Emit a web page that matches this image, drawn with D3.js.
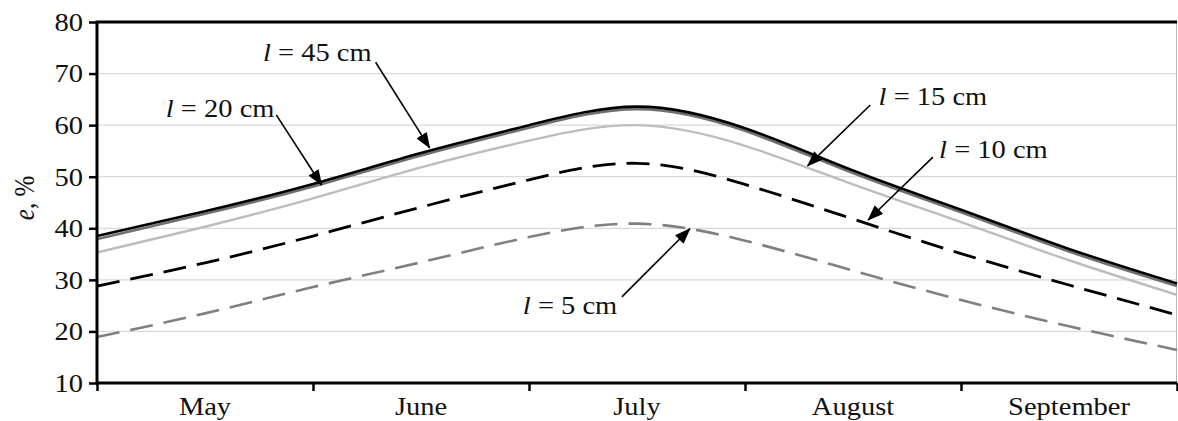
<!DOCTYPE html>
<html>
<head>
<meta charset="utf-8">
<script src="https://cdn.jsdelivr.net/npm/d3@7"></script>
<style>
  body { margin: 0; background: #fff; }
  text { font-family: "Liberation Serif", "Times New Roman", serif; fill: #111; }
</style>
</head>
<body>
<svg id="chart" width="1178" height="421"></svg>
<script>
// month index: 0 = start of May ... 5 = end of September
const months = ['May', 'June', 'July', 'August', 'September'];
const t = [0, 0.5, 1, 1.5, 2, 2.5, 3, 3.5, 4, 4.5, 5];
const yTicks = [10, 20, 30, 40, 50, 60, 70, 80];

const e45 = [38.5, 43.3, 48.6, 54.6, 60.0, 63.6, 59.4, 51.2, 43.6, 36.0, 29.3];
const e20 = [37.9, 42.8, 48.1, 54.1, 59.5, 63.1, 58.9, 50.7, 43.1, 35.5, 28.8];
const e15 = [35.3, 40.3, 45.8, 51.8, 57.0, 60.0, 56.0, 48.5, 41.2, 33.8, 27.1];
const e10 = [28.8, 33.3, 38.5, 44.1, 49.4, 52.6, 48.5, 41.8, 35.1, 29.0, 23.2];
const e5  = [18.9, 23.5, 28.6, 33.4, 38.3, 40.9, 37.6, 31.8, 26.1, 21.0, 16.4];

// label, label pos, arrow start, arrow tip (data units)
const notes = [
  { n: '45', lab: [1.02, 74.0], from: [1.29, 72.2], to: [1.54, 55.6] },
  { n: '20', lab: [0.57, 63.3], from: [0.83, 62.0], to: [1.04, 48.4] },
  { n: '15', lab: [3.87, 65.5], from: [3.58, 63.9], to: [3.29, 52.1] },
  { n: '10', lab: [4.15, 55.2], from: [3.87, 53.8], to: [3.57, 41.6] },
  { n: '5',  lab: [2.19, 25.1], from: [2.43, 26.7], to: [2.745, 39.9] }
];

const svg = d3.select('#chart');
const x = d3.scaleLinear().domain([0, 5]).range([97, 1177]);
const y = d3.scaleLinear().domain([10, 80]).range([383, 22]);
const sx = 1.14; // text in the original is a bit wide

// grid
svg.append('g').selectAll('line')
  .data(yTicks.filter(d => d > 10 && d < 80))
  .join('line')
  .attr('x1', x(0)).attr('x2', x(5))
  .attr('y1', d => y(d)).attr('y2', d => y(d))
  .attr('stroke', '#d9d9d9').attr('stroke-width', 1.2);

// right border
svg.append('line')
  .attr('x1', x(5) - 0.5).attr('x2', x(5) - 0.5)
  .attr('y1', y(80)).attr('y2', y(10))
  .attr('stroke', '#bbb').attr('stroke-width', 1);

const line = d3.line()
  .x((d, i) => x(t[i]))
  .y(d => y(d))
  .curve(d3.curveNatural);

const series = [
  { v: e5,  color: '#808080', w: 2.6, dash: '23,11' },
  { v: e10, color: '#000',    w: 2.8, dash: '23,11' },
  { v: e15, color: '#bdbdbd', w: 2.4, dash: null },
  { v: e20, color: '#707070', w: 2.6, dash: null },
  { v: e45, color: '#000',    w: 2.6, dash: null }
];

svg.append('g').selectAll('path')
  .data(series)
  .join('path')
  .attr('d', d => line(d.v))
  .attr('fill', 'none')
  .attr('stroke', d => d.color)
  .attr('stroke-width', d => d.w)
  .attr('stroke-dasharray', d => d.dash);

// axes
const yAxis = svg.append('g')
  .attr('transform', `translate(${x(0)},0)`)
  .call(d3.axisLeft(y).tickValues(yTicks).tickSize(8).tickPadding(6));
yAxis.select('.domain').attr('stroke', '#000').attr('stroke-width', 3)
  .attr('d', `M0,${y(80)}V${y(10)}`);
yAxis.selectAll('.tick line').attr('stroke', '#000').attr('stroke-width', 2.5);
yAxis.selectAll('.tick text')
  .attr('font-size', 25)
  .attr('x', null).attr('dy', null)
  .attr('text-anchor', 'end')
  .attr('dominant-baseline', 'central')
  .attr('transform', `translate(-14,0) scale(${sx},1)`);

const xAxis = svg.append('g')
  .attr('transform', `translate(0,${y(10)})`)
  .call(d3.axisBottom(x).tickValues([0, 1, 2, 3, 4, 5]).tickSize(8).tickFormat(''));
xAxis.select('.domain').attr('stroke', '#000').attr('stroke-width', 3)
  .attr('d', `M${x(0)},0H${x(5)}`);
xAxis.selectAll('.tick line').attr('stroke', '#000').attr('stroke-width', 2.5);

svg.append('g').selectAll('text')
  .data(months)
  .join('text')
  .attr('transform', (d, i) => `translate(${x(i + 0.5)},${y(10) + 32}) scale(${sx},1)`)
  .attr('text-anchor', 'middle')
  .attr('font-size', 25)
  .text(d => d);

// top border
svg.append('line')
  .attr('x1', x(0) - 1.5).attr('x2', x(5))
  .attr('y1', y(80)).attr('y2', y(80))
  .attr('stroke', '#000').attr('stroke-width', 3);

// y title
const yt = svg.append('text')
  .attr('transform', `translate(34,198) rotate(-90) scale(1,${sx})`)
  .attr('text-anchor', 'middle')
  .attr('font-size', 25);
yt.append('tspan').attr('font-style', 'italic').text('e');
yt.append('tspan').text(', %');

// arrows
svg.append('defs').append('marker')
  .attr('id', 'head')
  .attr('viewBox', '0 0 16 12')
  .attr('refX', 15).attr('refY', 6)
  .attr('markerWidth', 16).attr('markerHeight', 12)
  .attr('markerUnits', 'userSpaceOnUse')
  .attr('orient', 'auto')
  .append('path').attr('d', 'M0,0L16,6L0,12Z').attr('fill', '#000');

svg.append('g').selectAll('line')
  .data(notes)
  .join('line')
  .attr('x1', d => x(d.from[0])).attr('y1', d => y(d.from[1]))
  .attr('x2', d => x(d.to[0])).attr('y2', d => y(d.to[1]))
  .attr('stroke', '#000').attr('stroke-width', 1.6)
  .attr('marker-end', 'url(#head)');

const lab = svg.append('g').selectAll('text')
  .data(notes)
  .join('text')
  .attr('transform', d => `translate(${x(d.lab[0])},${y(d.lab[1])}) scale(${sx},1)`)
  .attr('text-anchor', 'middle')
  .attr('dominant-baseline', 'central')
  .attr('font-size', 25);
lab.append('tspan').attr('font-style', 'italic').text('l');
lab.append('tspan').text(d => ` = ${d.n} cm`);
</script>
</body>
</html>
